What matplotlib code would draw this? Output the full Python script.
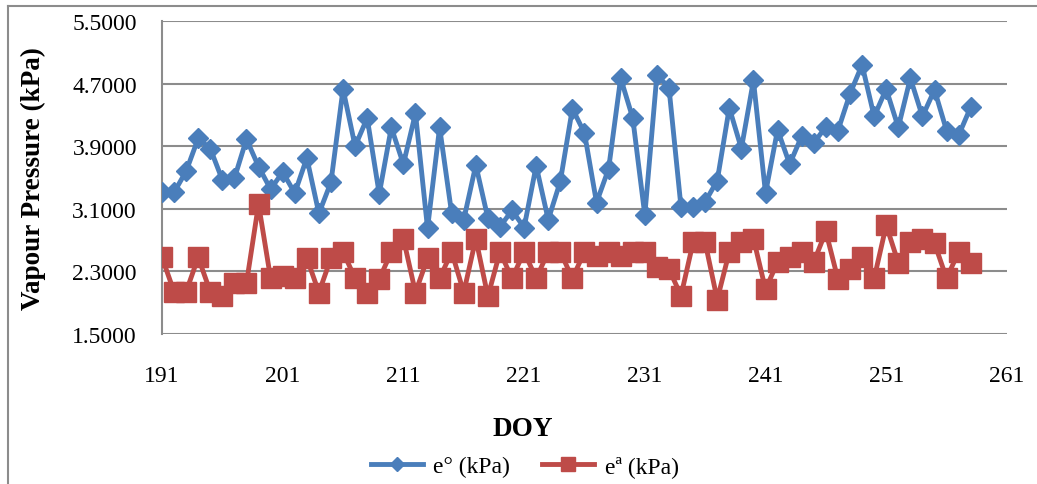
import matplotlib
matplotlib.use('Agg')
import matplotlib.pyplot as plt
from matplotlib.lines import Line2D

# Daily saturation and actual vapour pressure, DOY 191-258
doy = list(range(191, 259))
e_sat = [3.31, 3.31, 3.58, 4.00, 3.87, 3.47, 3.49, 3.99, 3.64, 3.35,
         3.57, 3.30, 3.75, 3.04, 3.44, 4.63, 3.90, 4.26, 3.29, 4.14,
         3.67, 4.32, 2.85, 4.14, 3.04, 2.96, 3.66, 2.98, 2.87, 3.08,
         2.86, 3.65, 2.96, 3.45, 4.38, 4.07, 3.18, 3.61, 4.77, 4.26,
         3.02, 4.81, 4.65, 3.12, 3.12, 3.19, 3.46, 4.39, 3.87, 4.74,
         3.30, 4.11, 3.67, 4.03, 3.94, 4.15, 4.10, 4.57, 4.94, 4.28,
         4.63, 4.14, 4.77, 4.28, 4.62, 4.10, 4.04, 4.40]
e_act = [2.48, 2.04, 2.04, 2.48, 2.04, 1.98, 2.15, 2.15, 3.16, 2.21,
         2.24, 2.21, 2.47, 2.03, 2.47, 2.55, 2.21, 2.03, 2.20, 2.55,
         2.72, 2.03, 2.47, 2.21, 2.55, 2.03, 2.72, 1.98, 2.55, 2.21,
         2.55, 2.21, 2.55, 2.55, 2.21, 2.55, 2.50, 2.55, 2.50, 2.55,
         2.55, 2.35, 2.33, 1.99, 2.67, 2.67, 1.94, 2.55, 2.67, 2.72,
         2.07, 2.42, 2.48, 2.55, 2.42, 2.81, 2.20, 2.33, 2.48, 2.21,
         2.89, 2.41, 2.67, 2.71, 2.66, 2.21, 2.55, 2.41]

x_ticks = [191, 201, 211, 221, 231, 241, 251, 261]
y_ticks = [1.5, 2.3, 3.1, 3.9, 4.7, 5.5]

plt.rcParams['font.family'] = ['Liberation Serif', 'DejaVu Serif']

BLUE = '#4A7EBB'
RED = '#BE4B48'
GRID = '#8C8C8C'

fig = plt.figure(figsize=(10.37, 4.85), dpi=100)
ax = fig.add_axes([0.1562, 0.3093, 0.8148, 0.6453])

ax.plot(doy, e_sat, color=BLUE, lw=3.5, marker='D', ms=10,
        label='e° (kPa)', zorder=3)
ax.plot(doy, e_act, color=RED, lw=3.5, marker='s', ms=14,
        label='eª (kPa)', zorder=3)

ax.set_xlim(191, 261)
ax.set_ylim(1.5, 5.5)
ax.set_xticks(x_ticks)
ax.set_yticks(y_ticks)
ax.set_yticklabels([f'{v:.4f}' for v in y_ticks])
ax.tick_params(axis='both', length=0, labelsize=17)
ax.tick_params(axis='x', pad=22)
ax.tick_params(axis='y', pad=18)

ax.grid(axis='y', color=GRID, lw=1.5)
ax.set_axisbelow(True)
for side in ['top', 'right', 'bottom']:
    ax.spines[side].set_visible(False)
ax.spines['left'].set_color(GRID)
ax.spines['left'].set_linewidth(1.5)

ax.set_ylabel('Vapour Pressure (kPa)', fontsize=19.5, fontweight='bold')
ax.yaxis.set_label_coords(-0.137, 0.5)
ax.set_xlabel('DOY', fontsize=19.5, fontweight='bold')
ax.xaxis.set_label_coords(0.427, -0.262)

fig.legend(loc='center', bbox_to_anchor=(0.506, 0.037), ncol=2,
           frameon=False, fontsize=17, handlelength=2.2,
           columnspacing=1.35, handletextpad=0.45, markerscale=0.75)

# chart area border (top and left edges)
fig.add_artist(Line2D([8 / 1037, 1], [1 - 7 / 485, 1 - 7 / 485],
                      color=GRID, lw=1.5, transform=fig.transFigure))
fig.add_artist(Line2D([8 / 1037, 8 / 1037], [0, 1 - 7 / 485],
                      color=GRID, lw=1.5, transform=fig.transFigure))

fig.savefig('out.png', dpi=100)
